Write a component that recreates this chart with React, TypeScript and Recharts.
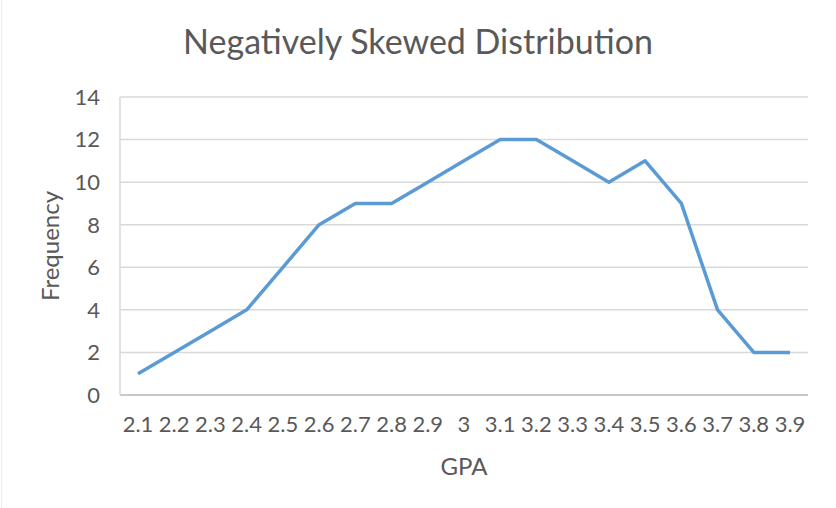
import { LineChart, Line, XAxis, YAxis, CartesianGrid } from 'recharts';

// GPA buckets and how many students fell into each
const gpaLabels = ['2.1', '2.2', '2.3', '2.4', '2.5', '2.6', '2.7', '2.8', '2.9', '3', '3.1', '3.2', '3.3', '3.4', '3.5', '3.6', '3.7', '3.8', '3.9'];
const frequencies = [1, 2, 3, 4, 6, 8, 9, 9, 10, 11, 12, 12, 11, 10, 11, 9, 4, 2, 2];
const yTicks = [0, 2, 4, 6, 8, 10, 12, 14];

const data = gpaLabels.map((gpa, i) => ({ gpa, freq: frequencies[i] }));

const FONT = 'Lato, Carlito, Calibri, sans-serif';
const TEXT = '#595959';

export default function App() {
  return (
    <div style={{ position: 'absolute', left: 0, top: 0, width: 836, height: 508, background: '#fff', fontFamily: FONT }}>
      {/* faint frame edge on the left, as in the source export */}
      <div style={{ position: 'absolute', left: 1, top: 0, width: 1, height: 508, background: '#ececec' }} />
      <div
        style={{
          position: 'absolute',
          left: 0,
          top: 21,
          width: 836,
          textAlign: 'center',
          fontSize: 34,
          color: TEXT,
          lineHeight: '40px',
        }}
      >
        Negatively Skewed Distribution
      </div>
      <LineChart width={836} height={508} data={data} margin={{ top: 97, right: 28, bottom: 53, left: 60 }}>
        <CartesianGrid vertical={false} stroke="#d9d9d9" strokeWidth={1.5} />
        <XAxis
          dataKey="gpa"
          interval={0}
          height={60}
          padding={{ left: 18, right: 18 }}
          tickLine={false}
          axisLine={{ stroke: '#bfbfbf', strokeWidth: 1.5 }}
          tickSize={0}
          tickMargin={21}
          tick={{ fontSize: 22, fill: TEXT, fontFamily: FONT }}
          label={{ value: 'GPA', position: 'insideBottom', offset: -20, fontSize: 24, fill: TEXT, fontFamily: FONT }}
        />
        <YAxis
          domain={[0, 14]}
          ticks={yTicks}
          width={60}
          tickLine={false}
          axisLine={{ stroke: '#d9d9d9', strokeWidth: 1.5 }}
          tickSize={0}
          tickMargin={20}
          tick={{ fontSize: 22, fill: TEXT, fontFamily: FONT }}
          label={{ value: 'Frequency', angle: -90, position: 'insideLeft', offset: -10, fontSize: 24, fill: TEXT, fontFamily: FONT, style: { textAnchor: 'middle' } }}
        />
        <Line
          type="linear"
          dataKey="freq"
          stroke="#5b9bd5"
          strokeWidth={3.5}
          dot={false}
          strokeLinejoin="round"
          isAnimationActive={false}
        />
      </LineChart>
    </div>
  );
}
